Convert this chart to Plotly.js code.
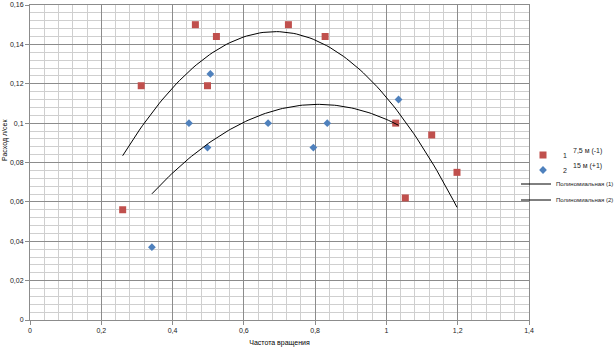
<!DOCTYPE html>
<html>
<head>
<meta charset="utf-8">
<script src="https://cdn.plot.ly/plotly-3.0.1.min.js"></script>
<style>html,body{margin:0;padding:0;background:#fff}#chart{width:616px;height:353px}</style>
</head>
<body>
<div id="chart"></div>
<script>
// Series 1: 7,5 м (-1)
const x1 = [0.26, 0.312, 0.464, 0.523, 0.498, 0.725, 0.828, 1.026, 1.127, 1.198, 1.053];
const y1 = [0.056, 0.119, 0.150, 0.144, 0.119, 0.150, 0.144, 0.100, 0.094, 0.075, 0.062];
// Series 2: 15 м (+1)
const x2 = [0.342, 0.446, 0.498, 0.506, 0.668, 0.795, 0.834, 1.034];
const y2 = [0.037, 0.100, 0.0876, 0.125, 0.100, 0.0876, 0.100, 0.112];

const seriesNames = ["1", "2"];
const seriesLabels = ["7,5 м (-1)", "15 м (+1)"];
const trendNames = ["Полиномиальная (1)", "Полиномиальная (2)"];
const xTitle = "Частота вращения";
const yTitle = "Расход л/сек";

// 2nd order polynomial least-squares trendline (as in the spreadsheet)
function polyFit2(xs, ys) {
  let n = xs.length, sx=0, sx2=0, sx3=0, sx4=0, sy=0, sxy=0, sx2y=0;
  for (let i=0;i<n;i++){const x=xs[i],y=ys[i];sx+=x;sx2+=x*x;sx3+=x*x*x;sx4+=x*x*x*x;sy+=y;sxy+=x*y;sx2y+=x*x*y;}
  const M=[[n,sx,sx2,sy],[sx,sx2,sx3,sxy],[sx2,sx3,sx4,sx2y]];
  for (let c=0;c<3;c++){for(let r=c+1;r<3;r++){const f=M[r][c]/M[c][c];for(let k=c;k<4;k++)M[r][k]-=f*M[c][k];}}
  const a=[0,0,0];
  for (let r=2;r>=0;r--){let s=M[r][3];for(let k=r+1;k<3;k++)s-=M[r][k]*a[k];a[r]=s/M[r][r];}
  return a;
}
function trend(xs, ys) {
  const a = polyFit2(xs, ys);
  const lo = Math.min(...xs), hi = Math.max(...xs);
  const tx=[], ty=[];
  for (let i=0;i<=100;i++){const x=lo+(hi-lo)*i/100;tx.push(x);ty.push(a[0]+a[1]*x+a[2]*x*x);}
  return {tx, ty};
}
const t1 = trend(x1, y1), t2 = trend(x2, y2);

const font = {family: "Liberation Sans, Arial, sans-serif", size: 7, color: "#222"};
const px = v => (v - 30) / 499;
const py = v => (320 - v) / 315;
const lg = (x, y, fs) => ({x: px(x), y: py(y), xanchor: "left", yanchor: "middle",
  font: {size: fs, color: "#222"}, bgcolor: "rgba(0,0,0,0)", itemwidth: 30, borderwidth: 0});

const data = [
  {x: x1, y: y1, type: "scatter", mode: "markers", name: seriesNames[0], legend: "legend",
   marker: {symbol: "square", size: 7, color: "#C0504D"}},
  {x: x2, y: y2, type: "scatter", mode: "markers", name: seriesNames[1], legend: "legend2",
   marker: {symbol: "diamond", size: 6, color: "#4F81BD"}},
  {x: t1.tx, y: t1.ty, type: "scatter", mode: "lines", name: trendNames[0], legend: "legend3",
   line: {color: "#000", width: 1}},
  {x: t2.tx, y: t2.ty, type: "scatter", mode: "lines", name: trendNames[1], legend: "legend4",
   line: {color: "#000", width: 1}}
];

const layout = {
  width: 616, height: 353,
  margin: {l: 30, r: 87, t: 5, b: 33, autoexpand: false},
  paper_bgcolor: "#fff", plot_bgcolor: "#fff",
  separators: ", ",
  font: font,
  showlegend: true,
  legend: lg(523, 155, 7),
  legend2: lg(523, 170, 7),
  legend3: lg(516, 184, 6),
  legend4: lg(516, 200, 6),
  xaxis: {range: [0, 1.4], dtick: 0.2, tick0: 0, showgrid: true, gridcolor: "#8c8c8c", gridwidth: 1,
          minor: {dtick: 0.04, showgrid: true, gridcolor: "#cfcfcf", gridwidth: 1},
          showline: true, linecolor: "#8c8c8c", mirror: true, zeroline: false,
          ticks: "outside", ticklen: 4, tickcolor: "#8c8c8c", tickfont: {size: 7, color: "#222"},
          title: {text: xTitle, font: {size: 7, color: "#000"}, standoff: 6}},
  yaxis: {range: [0, 0.16], dtick: 0.02, tick0: 0, showgrid: true, gridcolor: "#8c8c8c", gridwidth: 1,
          minor: {dtick: 0.004, showgrid: true, gridcolor: "#cfcfcf", gridwidth: 1},
          showline: true, linecolor: "#8c8c8c", mirror: true, zeroline: false,
          ticks: "outside", ticklen: 4, tickcolor: "#8c8c8c", tickfont: {size: 7, color: "#222"}},
  annotations: [
    {xref: "paper", yref: "paper", x: px(571), y: py(151), xanchor: "left", yanchor: "middle",
     text: seriesLabels[0], showarrow: false, font: {size: 7, color: "#222"}},
    {xref: "paper", yref: "paper", x: px(571), y: py(166), xanchor: "left", yanchor: "middle",
     text: seriesLabels[1], showarrow: false, font: {size: 7, color: "#222"}},
    {xref: "paper", yref: "paper", x: px(5), y: py(140), xanchor: "center", yanchor: "middle",
     textangle: -90, text: yTitle, showarrow: false, font: {size: 7, color: "#000"}}
  ]
};

Plotly.newPlot("chart", data, layout, {displayModeBar: false, staticPlot: true});
</script>
</body>
</html>
